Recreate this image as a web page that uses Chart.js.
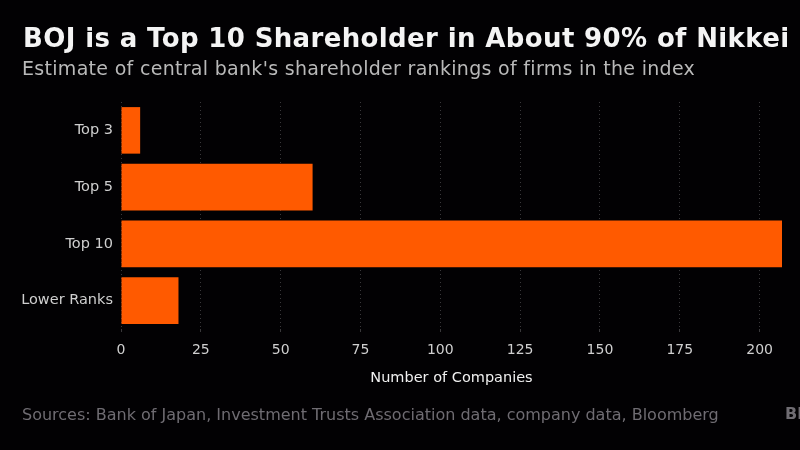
<!DOCTYPE html>
<html>
<head>
<meta charset="utf-8">
<script src="https://cdn.jsdelivr.net/npm/chart.js@4"></script>
<style>
    html, body { margin: 0; width: 800px; height: 450px; background: #020103; overflow: hidden; }
    #wrap { position: absolute; left: 0; top: 0; width: 800px; height: 450px; }
    .txt { position: absolute; white-space: nowrap; font-family: "DejaVu Sans", sans-serif; }
    #title { left: 23px; top: 23px; font-size: 26px; font-weight: bold; color: #f4f4f4; letter-spacing: 0.37px; }
    #subtitle { left: 22px; top: 57px; font-size: 19px; color: #b9b9b9; letter-spacing: 0.3px; }
    #source { left: 22px; top: 405px; font-size: 16px; color: #6f6c72; }
    #logo { left: 785px; top: 404px; font-size: 16px; font-weight: bold; color: #6f6c72; }
</style>
</head>
<body>
<div id="wrap"><canvas id="bar-chart" width="800" height="450"></canvas></div>
<div class="txt" id="title">BOJ is a Top 10 Shareholder in About 90% of Nikkei</div>
<div class="txt" id="subtitle">Estimate of central bank's shareholder rankings of firms in the index</div>
<div class="txt" id="source">Sources: Bank of Japan, Investment Trusts Association data, company data, Bloomberg</div>
<div class="txt" id="logo">Bl</div>
<script>
const categories = ['Top 3', 'Top 5', 'Top 10', 'Lower Ranks'];
const companies = [6, 60, 207, 18];
const xTicks = [0, 25, 50, 75, 100, 125, 150, 175, 200];

const font = { family: '"DejaVu Sans", sans-serif', size: 14.5 };

new Chart(document.getElementById('bar-chart'), {
    type: 'bar',
    data: {
        labels: categories,
        datasets: [{
            data: companies,
            backgroundColor: '#ff5a00',
            categoryPercentage: 0.82,
            barPercentage: 1
        }]
    },
    options: {
        indexAxis: 'y',
        responsive: false,
        animation: false,
        layout: { padding: { top: 102, right: 18, bottom: 61, left: 0 } },
        plugins: { legend: { display: false }, tooltip: { enabled: false } },
        scales: {
            x: {
                min: 0,
                max: 207,
                afterBuildTicks: scale => { scale.ticks = xTicks.map(v => ({ value: v })); },
                afterFit: scale => { scale.height = 60; },
                grid: { color: 'rgba(255,255,255,0.22)', tickLength: 3, drawOnChartArea: true },
                border: { display: false, dash: [1, 3] },
                ticks: { color: '#cfcfcf', font: { family: font.family, size: 14 }, padding: 10, maxRotation: 0 },
                title: { display: true, text: 'Number of Companies', color: '#f0f0f0', font: font, padding: { top: 0, bottom: 2 } }
            },
            y: {
                afterFit: scale => { scale.width = 121; },
                grid: { display: false, drawTicks: false },
                border: { display: false },
                ticks: { color: '#cfcfcf', font: font, padding: 8 }
            }
        }
    }
});
</script>
</body>
</html>
